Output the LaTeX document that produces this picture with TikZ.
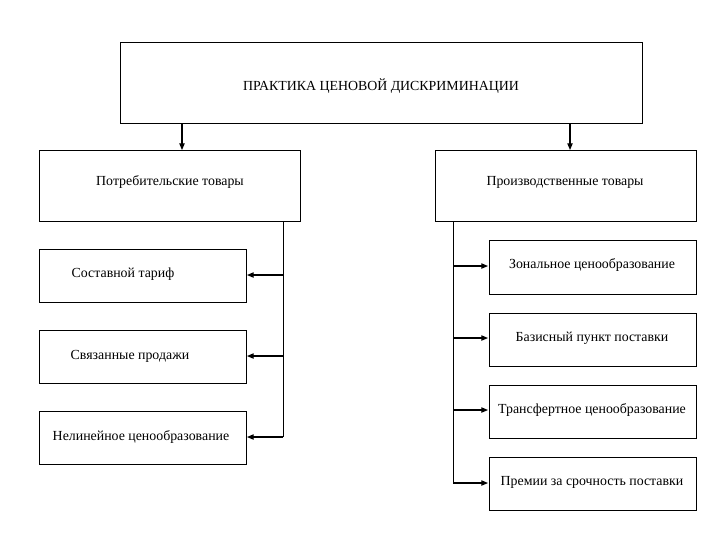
\documentclass[tikz,border=0pt]{standalone}
\usepackage{fontspec}
\setmainfont{Liberation Serif}
\usetikzlibrary{arrows.meta}
\begin{document}
\begin{tikzpicture}[x=0.75pt,y=-0.75pt,
  box/.style={draw,line width=0.6pt},
  lab/.style={font=\fontsize{10.4}{12}\selectfont,inner sep=0pt},
  arr/.style={line width=0.8pt,-{Triangle[length=5pt,width=4pt]}},
  ln/.style={line width=0.6pt}]
\useasboundingbox (0,0) rectangle (720,540);
\draw[box] (120,42) rectangle (642,123);
\node[lab] (t) at (381,86) {ПРАКТИКА ЦЕНОВОЙ ДИСКРИМИНАЦИИ};
\draw[box] (39,150) rectangle (300,221);
\node[lab] at (170,182) {Потребительские товары};
\draw[box] (435,150) rectangle (696,221);
\node[lab] at (565,182) {Производственные товары};
\coordinate (a1) at (182,123); \coordinate (a2) at (182,150);
\coordinate (b1) at (570,123); \coordinate (b2) at (570,150);
\draw[arr] (a1) -- (a2);
\draw[arr] (b1) -- (b2);
% left
\draw[box] (39,249) rectangle (246,302);
\draw[box] (39,330) rectangle (246,383);
\draw[box] (39,411) rectangle (246,464);
\node[lab] at (123,274) {Составной тариф};
\node[lab] at (130,356) {Связанные продажи};
\node[lab] at (141,437) {Нелинейное ценообразование};
\coordinate (lt) at (283,221); \coordinate (lb) at (283,437);
\draw[ln] (lt) -- (lb);
\foreach \y in {275,356,437}{\draw[arr] (283,\y) -- (247,\y);}
% right
\draw[box] (489,240) rectangle (696,294);
\draw[box] (489,313) rectangle (696,366);
\draw[box] (489,385) rectangle (696,438);
\draw[box] (489,457) rectangle (696,510);
\node[lab] at (592,265) {Зональное ценообразование};
\node[lab] at (592,338) {Базисный пункт поставки};
\node[lab] at (592,410) {Трансфертное ценообразование};
\node[lab] at (592,482) {Премии за срочность поставки};
\coordinate (rt) at (453,221); \coordinate (rb) at (453,483);
\draw[ln] (rt) -- (rb);
\foreach \y in {266,338,410,483}{\draw[arr] (453,\y) -- (488,\y);}
\end{tikzpicture}
\end{document}
